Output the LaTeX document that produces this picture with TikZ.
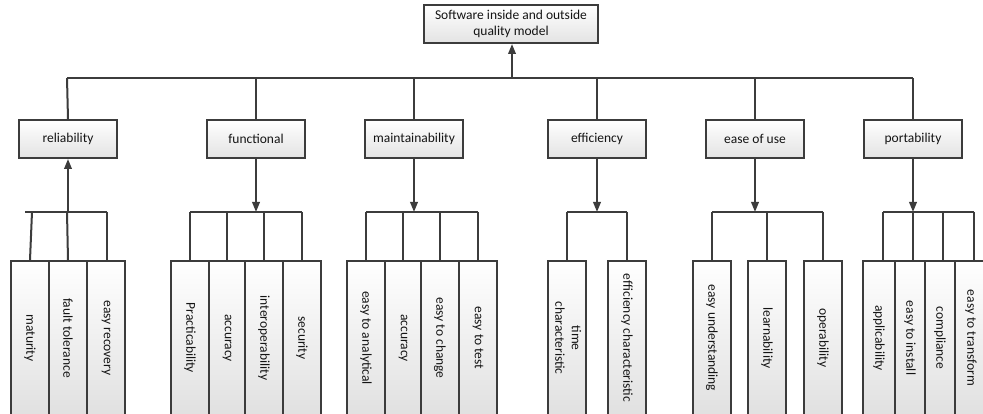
\documentclass[tikz,border=0pt]{standalone}
\usepackage{fontspec}
\setmainfont{Carlito}
\usetikzlibrary{arrows.meta}
\definecolor{ln}{HTML}{3C3C3C}
\definecolor{tx}{HTML}{141414}
\tikzset{
  conn/.style={draw=ln, line width=2pt},
  arr/.style={conn, -{Triangle[length=10pt,width=7.5pt]}},
  catbox/.style={draw=ln, line width=2pt, top color=white, bottom color=black!11,
    minimum width=98pt, minimum height=38pt, inner sep=0pt, text=tx,
    font=\fontsize{13.5}{16.5}\selectfont},
  topbox/.style={catbox, minimum width=174pt, minimum height=38pt, align=center},
  leaf/.style={draw=ln, line width=2pt, top color=white, bottom color=black!12,
    minimum height=154pt, inner sep=0pt, text=tx,
    font=\fontsize{13.5}{16.5}\selectfont}
}
\newcommand{\rt}[1]{\rotatebox{-90}{#1}}
\begin{document}
\begin{tikzpicture}[x=1pt,y=-1pt]
\useasboundingbox (0,0) rectangle (983,414);
\clip (0,0) rectangle (983,414);
\fill[white] (0,0) rectangle (983,414);

% top node
\node[topbox] (top) at (511,24) {Software inside and outside\\quality model};

% level 2
\node[catbox] (rel)   at (68,139)  {reliability};
\node[catbox] (func)  at (256,139) {functional};
\node[catbox] (maint) at (414,139) {maintainability};
\node[catbox] (eff)   at (597,139) {efficiency};
\node[catbox] (ease)  at (755,139) {ease of use};
\node[catbox] (port)  at (913,139) {portability};

% main bus
\coordinate (bl) at (67,78);
\coordinate (br) at (913,78);
\coordinate (b0) at (512,78);
\draw[conn] (bl) -- (br);
\draw[arr] (b0) -- (b0 |- top.south);
\draw[conn] (bl) -- (rel.north);
\foreach \n in {func,maint,eff,ease,port}{
  \draw[conn] (\n.north) -- (\n.north |- bl);
}

% leaves
\node[leaf, minimum width=38pt] (r1) at (30,338)  {\rt{maturity}};
\node[leaf, minimum width=38pt] (r2) at (68,338)  {\rt{fault tolerance}};
\node[leaf, minimum width=38pt] (r3) at (106,338) {\rt{easy recovery}};

\node[leaf, minimum width=38pt] (f1) at (190,338) {\rt{Practicability}};
\node[leaf, minimum width=36pt] (f2) at (227,338) {\rt{accuracy}};
\node[leaf, minimum width=38pt] (f3) at (264,338) {\rt{interoperability}};
\node[leaf, minimum width=38pt] (f4) at (302,338) {\rt{security}};

\node[leaf, minimum width=38pt] (m1) at (366,338) {\rt{easy to analytical}};
\node[leaf, minimum width=36pt] (m2) at (403,338) {\rt{accuracy}};
\node[leaf, minimum width=38pt] (m3) at (440,338) {\rt{easy to change}};
\node[leaf, minimum width=38pt] (m4) at (478,338) {\rt{easy to test}};

\node[leaf, minimum width=38pt] (e1) at (567,338) {\rt{\begin{tabular}{@{}c@{}}time\\characteristic\end{tabular}}};
\node[leaf, minimum width=38pt] (e2) at (627,338) {\rt{efficiency characteristic}};

\node[leaf, minimum width=38pt] (u1) at (712,338) {\rt{easy understanding}};
\node[leaf, minimum width=38pt] (u2) at (767,338) {\rt{learnability}};
\node[leaf, minimum width=38pt] (u3) at (823,338) {\rt{operability}};

\node[leaf, minimum width=32pt] (p1) at (879,338) {\rt{applicability}};
\node[leaf, minimum width=30pt] (p2) at (910,338) {\rt{easy to install}};
\node[leaf, minimum width=30pt] (p3) at (940,338) {\rt{compliance}};
\node[leaf, minimum width=32pt] (p4) at (971,338) {\rt{easy to transform}};

% reliability group
\coordinate (rb1) at (25,212);
\coordinate (rb2) at (107,212);
\coordinate (rj) at (68,212);
\draw[conn] (rb1) -- (rb2);
\draw[arr] (rj) -- (rel.south);
\draw[conn] (32,212) -- (r1.north);
\draw[conn] (67,212) -- (r2.north);
\draw[conn] (rb2) -- (r3.north -| rb2);

% functional group
\coordinate (fj) at (256,212);
\draw[conn] (f1.north |- fj) -- (f4.north |- fj);
\draw[arr] (func.south) -- (fj);
\foreach \n in {f1,f2,f3,f4}{ \draw[conn] (\n.north |- fj) -- (\n.north); }

% maintainability group
\coordinate (mj) at (414,212);
\draw[conn] (m1.north |- mj) -- (m4.north |- mj);
\draw[arr] (maint.south) -- (mj);
\foreach \n in {m1,m2,m3,m4}{ \draw[conn] (\n.north |- mj) -- (\n.north); }

% efficiency group
\coordinate (ej) at (597,212);
\draw[conn] (e1.north |- ej) -- (e2.north |- ej);
\draw[arr] (eff.south) -- (ej);
\foreach \n in {e1,e2}{ \draw[conn] (\n.north |- ej) -- (\n.north); }

% ease of use group
\coordinate (uj) at (755,212);
\draw[conn] (u1.north |- uj) -- (u3.north |- uj);
\draw[arr] (ease.south) -- (uj);
\foreach \n in {u1,u2,u3}{ \draw[conn] (\n.north |- uj) -- (\n.north); }

% portability group
\coordinate (pj) at (913,212);
\coordinate (pa) at (883,212);
\coordinate (pb) at (913,212);
\coordinate (pc) at (943,212);
\coordinate (pd) at (974,212);
\draw[conn] (pa) -- (pd);
\draw[arr] (port.south) -- (pj);
\draw[conn] (pa) -- (pa |- p1.north);
\draw[conn] (pb) -- (pb |- p2.north);
\draw[conn] (pc) -- (pc |- p3.north);
\draw[conn] (pd) -- (pd |- p4.north);
\end{tikzpicture}
\end{document}
